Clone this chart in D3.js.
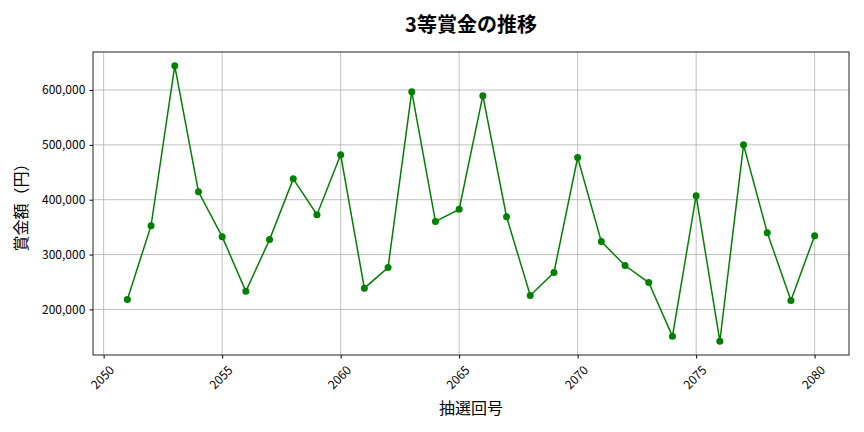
<!DOCTYPE html>
<html lang="ja">
<head>
<meta charset="UTF-8">
<title>3等賞金の推移</title>
<style>
  body { margin: 0; background: #fff; }
  text { font-family: "Noto Sans CJK JP", "Noto Sans", sans-serif; fill: #000; }
  .grid line { stroke: #b0b0b0; stroke-width: 0.8; }
  .axis path, .axis line { stroke: #000; }
</style>
</head>
<body>
<div id="chart"></div>
<script src="https://cdn.jsdelivr.net/npm/d3@7"></script>
<script>
// 抽選回号と3等賞金（円）
const rounds = [2051, 2052, 2053, 2054, 2055, 2056, 2057, 2058, 2059, 2060,
                2061, 2062, 2063, 2064, 2065, 2066, 2067, 2068, 2069, 2070,
                2071, 2072, 2073, 2074, 2075, 2076, 2077, 2078, 2079, 2080];
const prizes = [218200, 352700, 644200, 414500, 332700, 233000, 327300, 438000, 372700, 481800,
                238700, 276400, 597000, 360500, 382400, 589600, 369000, 225500, 267300, 477000,
                323600, 280000, 249000, 151000, 407300, 142000, 500000, 340000, 216400, 334500];
const xTicks = [2050, 2055, 2060, 2065, 2070, 2075, 2080];
const yTicks = [200000, 300000, 400000, 500000, 600000];

const data = rounds.map((r, i) => ({ round: r, prize: prizes[i] }));

const W = 864, H = 432;
const margin = { top: 52, right: 15, bottom: 77, left: 93 };
const width = W - margin.left - margin.right;
const height = H - margin.top - margin.bottom;

const svg = d3.select("#chart").append("svg")
  .attr("width", W)
  .attr("height", H);

const g = svg.append("g")
  .attr("transform", `translate(${margin.left},${margin.top})`);

// matplotlib style 5% padding
const xMin = d3.min(rounds), xMax = d3.max(rounds);
const xPad = (xMax - xMin) * 0.05;
const x = d3.scaleLinear()
  .domain([xMin - xPad, xMax + xPad])
  .range([0, width]);

const yMin = d3.min(prizes), yMax = d3.max(prizes);
const yPad = (yMax - yMin) * 0.05;
const y = d3.scaleLinear()
  .domain([yMin - yPad, yMax + yPad])
  .range([height, 0]);

// grid
g.append("g").attr("class", "grid")
  .selectAll("line.v").data(xTicks).enter().append("line")
  .attr("x1", d => x(d)).attr("x2", d => x(d))
  .attr("y1", 0).attr("y2", height);
g.append("g").attr("class", "grid")
  .selectAll("line.h").data(yTicks).enter().append("line")
  .attr("x1", 0).attr("x2", width)
  .attr("y1", d => y(d)).attr("y2", d => y(d));

// axes
const xAxis = g.append("g")
  .attr("class", "axis")
  .attr("transform", `translate(0,${height})`)
  .call(d3.axisBottom(x).tickValues(xTicks).tickFormat(d3.format("d")).tickSize(3.5).tickSizeOuter(0));
xAxis.select(".domain").remove();
xAxis.selectAll("text")
  .attr("font-size", 12)
  .attr("text-anchor", "middle")
  .attr("y", 0)
  .attr("dy", "0.35em")
  .attr("transform", "translate(-1.5,22.5) rotate(-45)");

const yAxis = g.append("g")
  .attr("class", "axis")
  .call(d3.axisLeft(y).tickValues(yTicks).tickFormat(d3.format(",")).tickSize(3.5).tickSizeOuter(0));
yAxis.select(".domain").remove();
yAxis.selectAll("text").attr("font-size", 12).attr("dx", "-0.1em");

// frame
g.append("rect")
  .attr("width", width).attr("height", height)
  .attr("fill", "none").attr("stroke", "#222").attr("stroke-width", 1);

// line + markers
const line = d3.line()
  .x(d => x(d.round))
  .y(d => y(d.prize));

g.append("path")
  .datum(data)
  .attr("fill", "none")
  .attr("stroke", "green")
  .attr("stroke-width", 1.5)
  .attr("d", line);

g.selectAll("circle.pt").data(data).enter().append("circle")
  .attr("class", "pt")
  .attr("cx", d => x(d.round))
  .attr("cy", d => y(d.prize))
  .attr("r", 3.5)
  .attr("fill", "green");

// title and labels
svg.append("text")
  .attr("x", margin.left + width / 2)
  .attr("y", 32)
  .attr("text-anchor", "middle")
  .attr("font-size", 20)
  .attr("font-weight", "bold")
  .text("3等賞金の推移");

svg.append("text")
  .attr("x", margin.left + width / 2)
  .attr("y", 414)
  .attr("text-anchor", "middle")
  .attr("font-size", 16)
  .text("抽選回号");

svg.append("text")
  .attr("transform", `translate(27,${margin.top + height / 2}) rotate(-90)`)
  .attr("text-anchor", "middle")
  .attr("font-size", 16)
  .text("賞金額（円）");
</script>
</body>
</html>
